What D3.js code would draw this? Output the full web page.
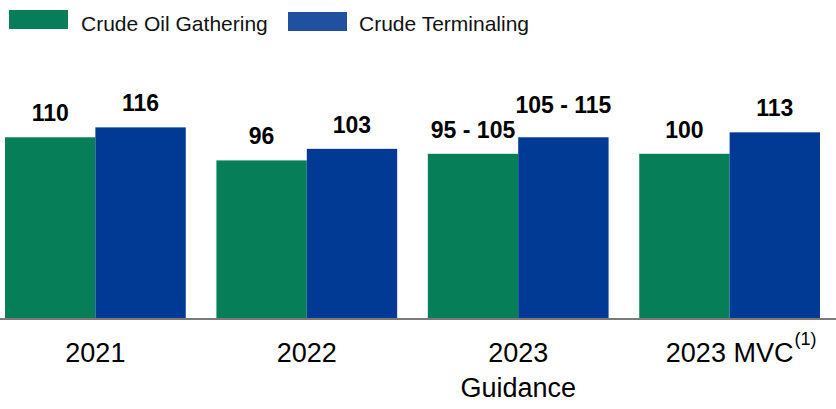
<!DOCTYPE html>
<html>
<head>
<meta charset="utf-8">
<script src="https://cdn.jsdelivr.net/npm/d3@7"></script>
<style>
  html, body { margin: 0; padding: 0; background: #fff; }
  svg { display: block; font-family: Arial, "Liberation Sans", sans-serif; }
</style>
</head>
<body>
<svg id="chart" width="836" height="409"></svg>
<script>
// ---- data ----
const categories = ["2021", "2022", "2023 Guidance", "2023 MVC"];
const categoryLines = [["2021"], ["2022"], ["2023", "Guidance"], ["2023 MVC"]];
const categorySuperscripts = ["", "", "", "(1)"];
const seriesNames = ["Crude Oil Gathering", "Crude Terminaling"];
const gatheringValues = [110, 96, 100, 100];
const terminalingValues = [116, 103, 110, 113];
const gatheringLabels = ["110", "96", "95 - 105", "100"];
const terminalingLabels = ["116", "103", "105 - 115", "113"];
const gatheringLabelAt = [110, 96, 100, 100];
const terminalingLabelAt = [116, 103, 115, 113];

// ---- styles ----
const barColors = ["#067F58", "#003A94"];
const legendColors = ["#077E57", "#2050A0"];

const svg = d3.select("#chart");

const x = d3.scaleBand().domain(categories).range([5, 820]).paddingInner(0.145).paddingOuter(0);
const xs = d3.scaleBand().domain(seriesNames).range([0, x.bandwidth()]).padding(0);
const y = d3.scaleLinear().domain([0, 120]).range([319, 319 - 120 * 1.652]);

const values = [gatheringValues, terminalingValues];
const labels = [gatheringLabels, terminalingLabels];
const labelAt = [gatheringLabelAt, terminalingLabelAt];

const rows = [];
categories.forEach((c, i) => {
  seriesNames.forEach((s, j) => {
    rows.push({ cat: c, series: s, j, value: values[j][i], label: labels[j][i], at: labelAt[j][i] });
  });
});

// bars
svg.append("g").selectAll("rect").data(rows).join("rect")
  .attr("x", d => x(d.cat) + xs(d.series))
  .attr("y", d => y(d.value))
  .attr("width", xs.bandwidth())
  .attr("height", d => y(0) - y(d.value))
  .attr("fill", d => barColors[d.j]);

// value labels
svg.append("g").selectAll("text").data(rows).join("text")
  .attr("x", d => x(d.cat) + xs(d.series) + xs.bandwidth() / 2)
  .attr("y", d => y(d.at) - 16)
  .attr("text-anchor", "middle")
  .attr("font-size", 23)
  .attr("font-weight", "bold")
  .attr("fill", "#000")
  .text(d => d.label);

// baseline axis
const axis = svg.append("g").attr("transform", `translate(0,${y(0)})`)
  .call(d3.axisBottom(x).tickSize(0).tickFormat(""));
axis.select(".domain").attr("d", "M0,0H836").attr("stroke", "#7a7a7a").attr("stroke-width", 2);

// category labels
categories.forEach((c, i) => {
  const cx = x(c) + x.bandwidth() / 2;
  categoryLines[i].forEach((line, k) => {
    const t = svg.append("text")
      .attr("x", cx)
      .attr("y", 362 + k * 35)
      .attr("text-anchor", "middle")
      .attr("font-size", 27)
      .attr("fill", "#000")
      .text(line);
    if (k === 0 && categorySuperscripts[i]) {
      const w = t.node().getComputedTextLength();
      svg.append("text")
        .attr("x", cx + w / 2 + 1)
        .attr("y", 345)
        .attr("font-size", 18)
        .attr("fill", "#000")
        .text(categorySuperscripts[i]);
    }
  });
});

// legend
const legendPos = [{ rx: 9, ry: 10, tx: 81 }, { rx: 288, ry: 12, tx: 359 }];
seriesNames.forEach((s, j) => {
  svg.append("rect")
    .attr("x", legendPos[j].rx).attr("y", legendPos[j].ry)
    .attr("width", 59).attr("height", 19)
    .attr("fill", legendColors[j]);
  svg.append("text")
    .attr("x", legendPos[j].tx).attr("y", 31)
    .attr("font-size", 21)
    .attr("fill", "#111")
    .text(s);
});
</script>
</body>
</html>
